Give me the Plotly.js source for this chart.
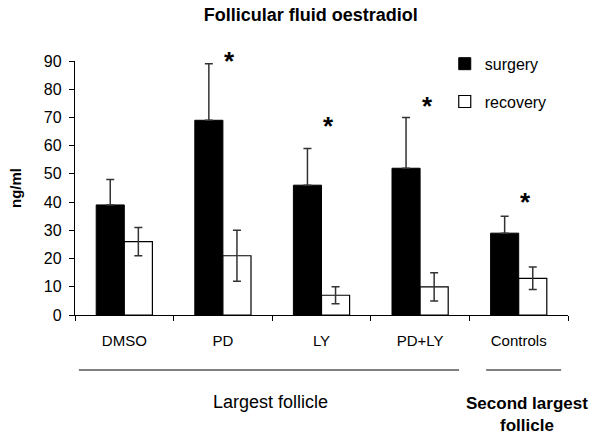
<!DOCTYPE html>
<html>
<head>
<meta charset="utf-8">
<script src="https://cdn.plot.ly/plotly-3.0.1.min.js"></script>
<style>html,body{margin:0;padding:0;background:#fff}#chart{width:600px;height:442px}</style>
</head>
<body>
<div id="chart"></div>
<script>
var categories = ["DMSO", "PD", "LY", "PD+LY", "Controls"];
var surgery = [39, 69, 46, 52, 29];
var surgeryErr = [9, 20, 13, 18, 6];
var recovery = [26, 21, 7, 10, 13];
var recoveryErr = [5, 9, 3, 5, 4];
var significant = [false, true, true, true, true];
var starLevel = [0, 90, 67, 74, 40];
var groupLabels = ["Largest follicle", "Second largest<br>follicle"];

var font = "Liberation Sans, Arial, sans-serif";
var zeros = surgery.map(function(){return 0;});

var traces = [
  {type: "bar", name: "surgery", x: categories, y: surgery, legendgroup: "a",
   marker: {color: "#000000", line: {color: "#000000", width: 1}},
   error_y: {type: "data", array: surgeryErr, arrayminus: zeros, symmetric: false,
             color: "#333", thickness: 1.5, width: 4}},
  {type: "bar", name: "recovery", x: categories, y: recovery, legendgroup: "b",
   marker: {color: "#ffffff", line: {color: "#000000", width: 1.2}},
   error_y: {type: "data", array: recoveryErr, color: "#333", thickness: 1.5, width: 4}}
];

var annotations = [];
categories.forEach(function(c, i){
  if (significant[i]) {
    annotations.push({x: c, y: starLevel[i], xref: "x", yref: "y", text: "<b>*</b>",
      showarrow: false, xshift: 7, yanchor: "middle", yshift: 0,
      font: {family: font, size: 26, color: "#000"}});
  }
});
annotations.push({x: 0.396, y: -0.3425, xref: "paper", yref: "paper", text: groupLabels[0],
  showarrow: false, xanchor: "center", yanchor: "middle",
  font: {family: font, size: 18, color: "#000"}});
annotations.push({x: 0.917, y: -0.39, xref: "paper", yref: "paper", text: "<b>" + groupLabels[1] + "</b>",
  showarrow: false, xanchor: "center", yanchor: "middle",
  font: {family: font, size: 17, color: "#000"}});

var layout = {
  width: 600, height: 442,
  margin: {l: 75, r: 32, t: 61, b: 127},
  paper_bgcolor: "#fff", plot_bgcolor: "#fff",
  title: {text: "<b>Follicular fluid oestradiol</b>", x: 0.518, xanchor: "center", y: 0.966, yanchor: "middle",
          font: {family: font, size: 18, color: "#000"}},
  bargap: 0.43, bargroupgap: 0,
  barmode: "group",
  showlegend: true,
  legend: {x: 0.75, y: 1.056, xanchor: "left", yanchor: "top", bgcolor: "rgba(0,0,0,0)",
           font: {family: font, size: 16, color: "#000"}, tracegroupgap: 14, traceorder: "grouped"},
  xaxis: {type: "category", showline: true, linecolor: "#000", linewidth: 1.2,
          ticks: "outside", tickson: "boundaries", ticklen: 5, tickcolor: "#000",
          showgrid: false, zeroline: false, ticklabelstandoff: 12,
          tickfont: {family: font, size: 15, color: "#000"}, range: [-0.5, 4.5]},
  yaxis: {range: [0, 90], dtick: 10, showline: true, linecolor: "#000", linewidth: 1.2,
          ticks: "outside", ticklen: 5, tickcolor: "#000", showgrid: false, zeroline: false,
          ticklabelstandoff: 4,
          tickfont: {family: font, size: 16, color: "#000"},
          title: {text: "<b>ng/ml</b>", font: {family: font, size: 15, color: "#000"}, standoff: 18}},
  shapes: [
    {type: "line", xref: "paper", yref: "paper", x0: 0.008, x1: 0.779, y0: -0.2165, y1: -0.2165,
     line: {color: "#808080", width: 2}},
    {type: "line", xref: "paper", yref: "paper", x0: 0.834, x1: 0.986, y0: -0.2165, y1: -0.2165,
     line: {color: "#808080", width: 2}}
  ],
  annotations: annotations
};

Plotly.newPlot("chart", traces, layout, {displayModeBar: false, staticPlot: true});
</script>
</body>
</html>
